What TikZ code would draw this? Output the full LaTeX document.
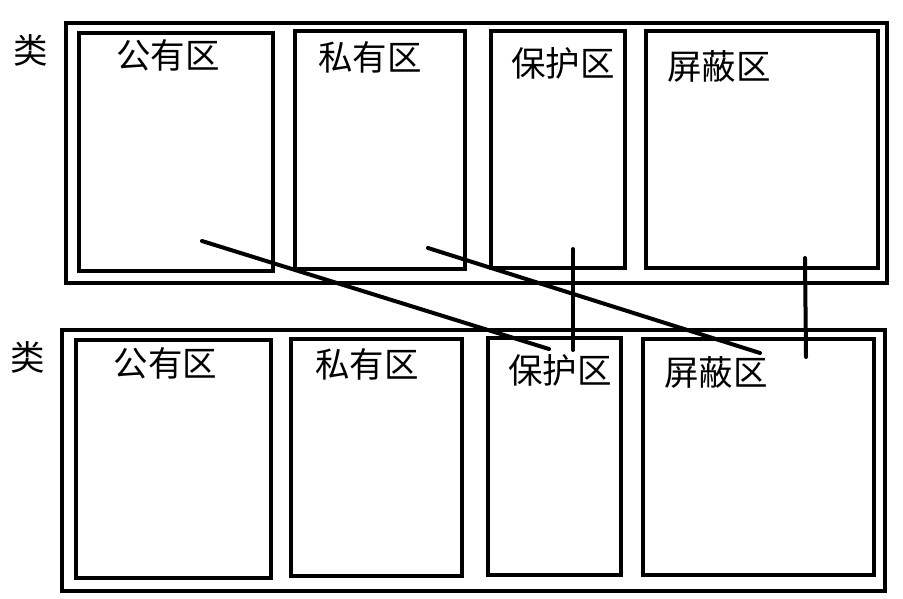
\documentclass[tikz,border=0pt]{standalone}
\usepackage{fontspec}
\newfontfamily\cjk{Noto Sans CJK SC}
\begin{document}
\begin{tikzpicture}[x=1pt,y=-1pt,
  box/.style={draw=black,line width=4pt,rectangle,inner sep=0pt,outer sep=0pt},
  lbl/.style={inner sep=0pt,font=\cjk\fontsize{34.5}{34.5}\selectfont},
  conn/.style={draw=black,line width=4pt,line cap=round}]
\useasboundingbox[fill=white] (0,0) rectangle (903,598);
% top class
\node[box,minimum width=821.5pt,minimum height=260.5pt] (touter) at (476.25,152.75) {};
\node[box,minimum width=194pt,minimum height=238.5pt] (t1) at (176,151.75) {};
\node[box,minimum width=170pt,minimum height=238pt] (t2) at (380,150) {};
\node[box,minimum width=134pt,minimum height=237pt] (t3) at (557.5,149.5) {};
\node[box,minimum width=232pt,minimum height=237pt] (t4) at (761.5,149.5) {};
% bottom class
\node[box,minimum width=822.5pt,minimum height=261pt] (bouter) at (473.25,460) {};
\node[box,minimum width=195pt,minimum height=238.5pt] (b1) at (173,458.75) {};
\node[box,minimum width=171pt,minimum height=237pt] (b2) at (376.5,457.5) {};
\node[box,minimum width=133pt,minimum height=237pt] (b3) at (554.5,456.5) {};
\node[box,minimum width=231pt,minimum height=236pt] (b4) at (758.5,457) {};
% labels
\node[lbl] (tcls) at (31,50) {类};
\node[lbl] (bcls) at (28,357) {类};
\node[lbl] (tl1) at (168,55.5) {公有区};
\node[lbl] (tl2) at (370,57.5) {私有区};
\node[lbl] (tl3) at (563,63) {保护区};
\node[lbl] (tl4) at (719,66) {屏蔽区};
\node[lbl] (bl1) at (165.5,363) {公有区};
\node[lbl] (bl2) at (367,364.5) {私有区};
\node[lbl] (bl3) at (560,370) {保护区};
\node[lbl] (bl4) at (716,372.5) {屏蔽区};
% connector ends
\coordinate (a1) at (202,241);
\coordinate (a2) at (549,349);
\coordinate (c1) at (428,248);
\coordinate (c2) at (760,353);
\coordinate (v1) at (573,249);
\coordinate (v2) at (573,350);
\coordinate (w1) at (805,258);
\coordinate (w2) at (806,357);
\draw[conn] (a1) -- (a2);
\draw[conn] (c1) -- (c2);
\draw[conn] (v1) -- (v2);
\draw[conn] (w1) -- (w2);
\end{tikzpicture}
\end{document}
